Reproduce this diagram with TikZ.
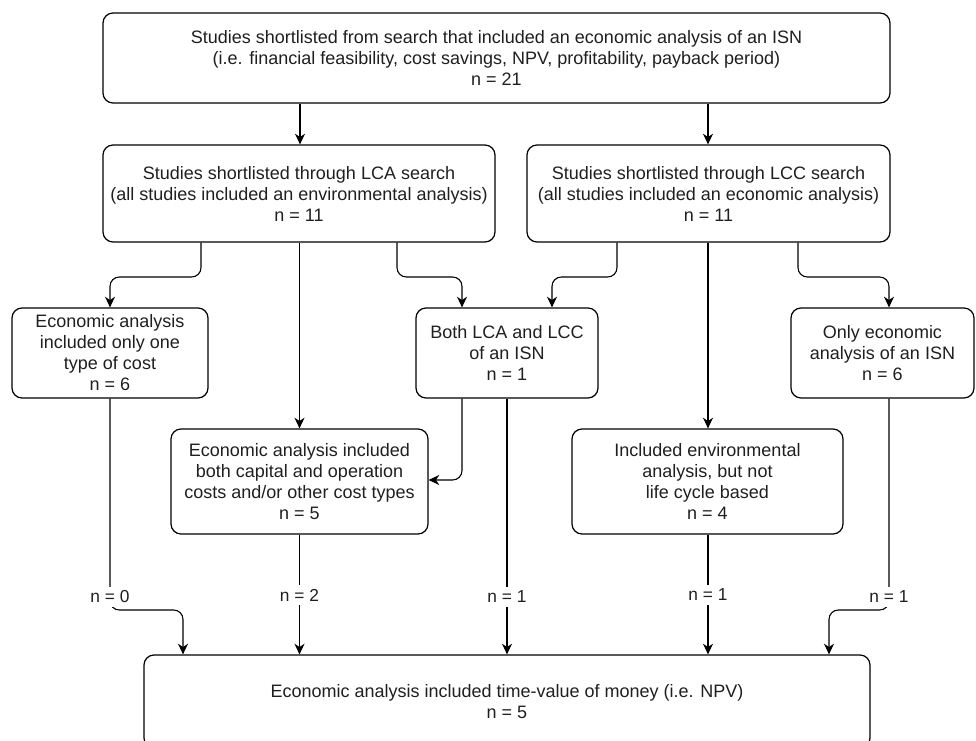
\documentclass[tikz,border=0pt]{standalone}
\usepackage{fontspec}
\setmainfont{Liberation Sans}
\usetikzlibrary{arrows.meta,calc}
\begin{document}
\begin{tikzpicture}[x=0.75pt,y=-0.75pt,
  box/.style={draw, line width=0.9pt, rounded corners=7.5pt, align=center, inner sep=0pt,
    font=\fontsize{13.5}{15.75}\selectfont, text=black!88},
  conn/.style={line width=0.8pt, rounded corners=7pt},
  arr/.style={conn, -{Stealth[length=8pt,width=7.5pt,inset=2.5pt]}},
  lbl/.style={fill=white, inner sep=3pt, font=\fontsize{13}{14.5}\selectfont, text=black!88}]
\useasboundingbox (0,0) rectangle (976,741);
\clip (0,0) rectangle (976,741);
% boxes
\node[box, minimum width=787*0.75pt, minimum height=90*0.75pt] (top) at (496.5,58)
  {Studies shortlisted from search that included an economic analysis of an ISN\\(i.e. financial feasibility, cost savings, NPV, profitability, payback period)\\n = 21};
\node[box, minimum width=392*0.75pt, minimum height=97*0.75pt] (lca) at (299,193.5)
  {Studies shortlisted through LCA search\\(all studies included an environmental analysis)\\n = 11};
\node[box, minimum width=363*0.75pt, minimum height=97*0.75pt] (lcc) at (708.5,193.5)
  {Studies shortlisted through LCC search\\(all studies included an economic analysis)\\n = 11};
\node[box, minimum width=196*0.75pt, minimum height=90*0.75pt] (one) at (110,353)
  {Economic analysis\\included only one\\type of cost\\n = 6};
\node[box, minimum width=182*0.75pt, minimum height=90*0.75pt] (both) at (507,353)
  {Both LCA and LCC\\of an ISN\\n = 1};
\node[box, minimum width=183*0.75pt, minimum height=90*0.75pt] (only) at (882.5,353)
  {Only economic\\analysis of an ISN\\n = 6};
\node[box, minimum width=257*0.75pt, minimum height=105*0.75pt] (cap) at (299.5,481.5)
  {Economic analysis included\\both capital and operation\\costs and/or other cost types\\n = 5};
\node[box, minimum width=271*0.75pt, minimum height=105*0.75pt] (env) at (707.5,481.5)
  {Included environmental\\analysis, but not\\life cycle based\\n = 4};
\node[box, minimum width=726*0.75pt, minimum height=93*0.75pt] (bot) at (507,701.5)
  {Economic analysis included time-value of money (i.e. NPV)\\n = 5};
% helper columns and rows
\coordinate (cA) at (110,0);
\coordinate (cB) at (183,0);
\coordinate (cC) at (201,0);
\coordinate (cD) at (299.5,0);
\coordinate (cE) at (397,0);
\coordinate (cF) at (462,0);
\coordinate (cG) at (507,0);
\coordinate (cH) at (552,0);
\coordinate (cI) at (617,0);
\coordinate (cJ) at (708,0);
\coordinate (cK) at (798,0);
\coordinate (cL) at (829,0);
\coordinate (cM) at (889,0);
\coordinate (cT1) at (300,0);
\coordinate (r277) at (0,277);
\coordinate (r480) at (0,480);
\coordinate (r610) at (0,610);
% top level
\draw[arr] (top.south -| cT1) -- (lca.north -| cT1);
\draw[arr] (top.south -| cJ) -- (lcc.north -| cJ);
% from LCA
\draw[arr] (lca.south -| cC) -- (cC |- r277) -- (cA |- r277) -- (one.north -| cA);
\draw[arr] (lca.south -| cD) -- (cap.north -| cD);
\draw[arr] (lca.south -| cE) -- (cE |- r277) -- (cF |- r277) -- (both.north -| cF);
% from LCC
\draw[arr] (lcc.south -| cI) -- (cI |- r277) -- (cH |- r277) -- (both.north -| cH);
\draw[arr] (lcc.south -| cJ) -- (env.north -| cJ);
\draw[arr] (lcc.south -| cK) -- (cK |- r277) -- (cM |- r277) -- (only.north -| cM);
% Both -> cap
\draw[arr] (both.south -| cF) -- (cF |- r480) -- (cap.east |- r480);
% to bottom
\draw[arr] (one.south -| cA) -- (cA |- r610) -- (cB |- r610) -- (bot.north -| cB);
\draw[arr] (cap.south -| cD) -- (bot.north -| cD);
\draw[arr] (both.south -| cG) -- (bot.north -| cG);
\draw[arr] (env.south -| cJ) -- (bot.north -| cJ);
\draw[arr] (only.south -| cM) -- (cM |- r610) -- (cL |- r610) -- (bot.north -| cL);
% labels
\node[lbl] (l0) at (110,597) {n = 0};
\node[lbl] (l2) at (299.5,595) {n = 2};
\node[lbl] (l1a) at (507,597) {n = 1};
\node[lbl] (l1b) at (708,595) {n = 1};
\node[lbl] (l1c) at (889,597) {n = 1};
\end{tikzpicture}
\end{document}
